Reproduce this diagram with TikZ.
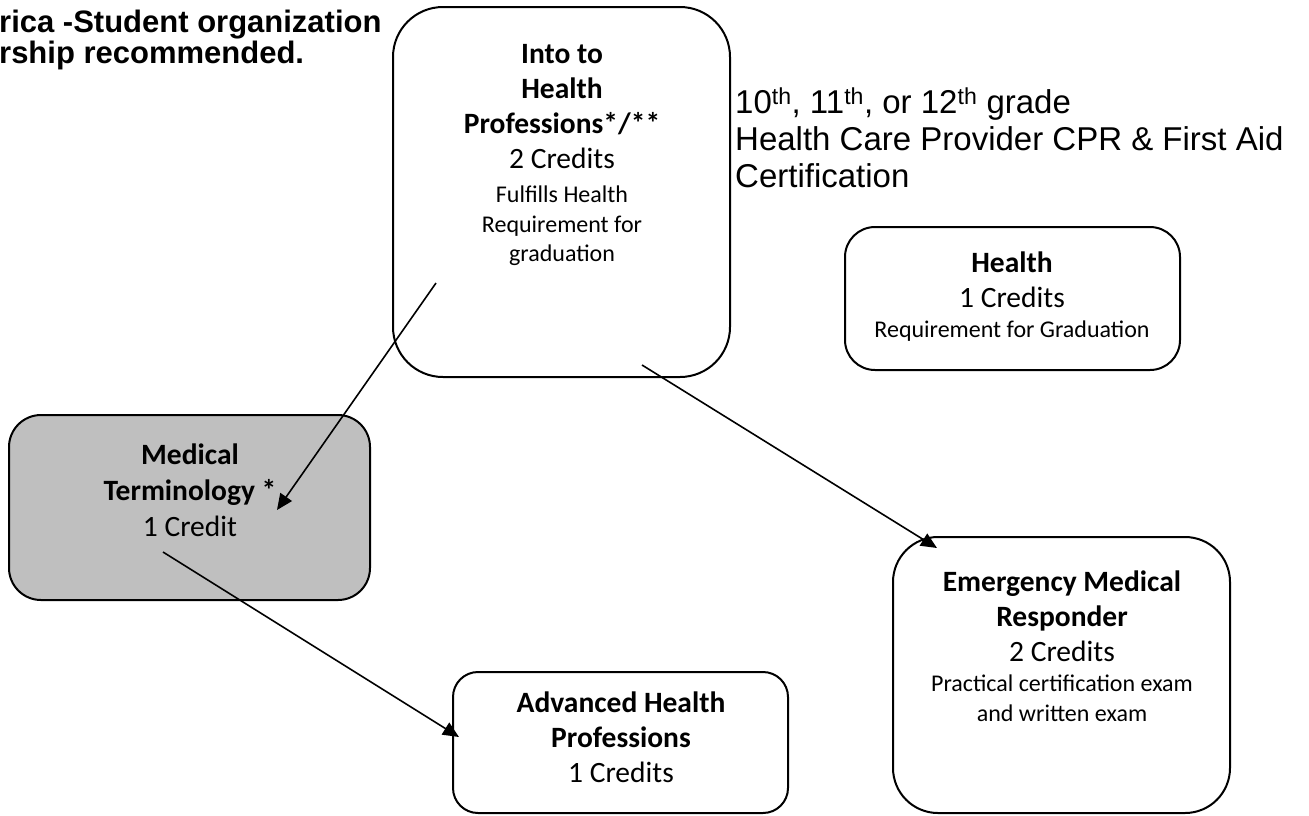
\documentclass[tikz,border=0pt]{standalone}
\usepackage{fontspec}
\setmainfont{Carlito}
\newfontfamily\aptos{Liberation Sans}
\usetikzlibrary{arrows.meta}
\definecolor{boxgray}{RGB}{191,191,191}
\begin{document}
\begin{tikzpicture}[x=1pt,y=-1pt,
  box/.style={draw=black, line width=2pt, rectangle, inner sep=0pt},
  big/.style={font=\fontsize{29.5}{35}\selectfont, align=center, anchor=north, inner sep=0pt},
  small/.style={font=\fontsize{24}{29.5}\selectfont, align=center, anchor=north, inner sep=0pt},
  plain/.style={align=left, anchor=north west, inner sep=0pt},
  conn/.style={line width=1.6pt, -{Triangle[length=16pt,width=14pt]}}]
\useasboundingbox (0,0) rectangle (1309,815);

% boxes
\node[box, rounded corners=50pt, minimum width=337pt, minimum height=370pt] (intro) at (561.5,192) {};
\node[box, rounded corners=30pt, minimum width=335pt, minimum height=143pt] (health) at (1012.5,298.5) {};
\node[box, rounded corners=32pt, fill=boxgray, minimum width=361pt, minimum height=185pt] (med) at (189.5,507.5) {};
\node[box, rounded corners=25pt, minimum width=335pt, minimum height=141pt] (adv) at (620.5,742.5) {};
\node[box, rounded corners=45pt, minimum width=337pt, minimum height=276pt] (emr) at (1061.5,675) {};

% texts
\node[big] (introA) at (562,44) {\textbf{Into to}\\\textbf{Health}\\\textbf{Professions*/**}\\2 Credits};
\node[small] (introB) at (562,186) {Fulfills Health\\Requirement for\\graduation};

\node[big] (healthA) at (1012,252) {\textbf{Health}\\1 Credits};
\node[small] (healthB) at (1012,321) {Requirement for Graduation};

\node[big, font=\fontsize{29.5}{36}\selectfont] (medA) at (190,444) {\textbf{Medical}\\\textbf{Terminology *}\\1 Credit};

\node[big] (emrA) at (1062,571) {\textbf{Emergency Medical}\\\textbf{Responder}\\2 Credits};
\node[small, font=\fontsize{24}{30}\selectfont] (emrB) at (1062,675) {Practical certification exam\\and written exam};

\node[big] (advA) at (621,692) {\textbf{Advanced Health}\\\textbf{Professions}\\1 Credits};

\node[plain, font=\aptos\fontsize{33}{37}\selectfont] (grade) at (735,88)
  {10\textsuperscript{th}, 11\textsuperscript{th}, or 12\textsuperscript{th} grade\\Health Care Provider CPR \& First Aid\\Certification};

\node[plain, font=\aptos\bfseries\fontsize{31}{31}\selectfont] (hosa) at (-1,10)
  {rica -Student organization\\rship recommended.};

% connectors
\coordinate (s1) at (436,283);
\coordinate (e1) at (277,510);
\coordinate (s2) at (642,365);
\coordinate (e2) at (937,548);
\coordinate (s3) at (163,552);
\coordinate (e3) at (459,737);
\draw[conn] (s1) -- (e1);
\draw[conn] (s2) -- (e2);
\draw[conn] (s3) -- (e3);
\end{tikzpicture}
\end{document}
